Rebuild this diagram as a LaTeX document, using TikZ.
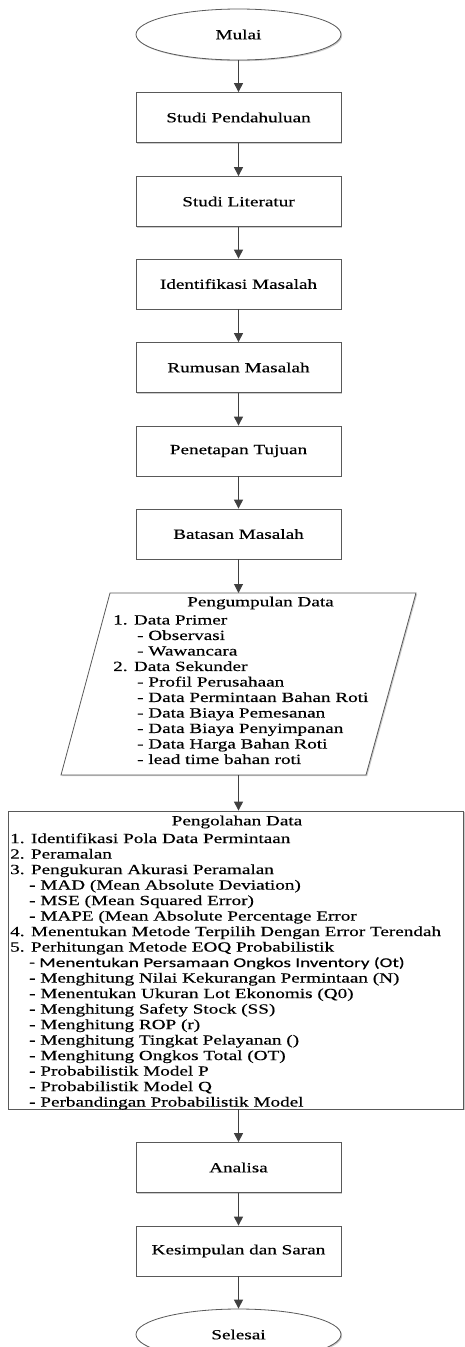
\documentclass[tikz,border=0pt]{standalone}
\usepackage{fontspec}
\setmainfont{Liberation Serif}[FakeStretch=1.37, FakeBold=0.4]
\newfontfamily\sansitem{Carlito}[FakeStretch=1.42, FakeBold=0.3]
\usepackage{tikz}
\usetikzlibrary{shapes.geometric, arrows.meta, positioning, calc, shadows}

\begin{document}
\begin{tikzpicture}[x=1pt, y=-1pt,
  bayang/.style={drop shadow={shadow xshift=1.2pt, shadow yshift=-1.2pt, fill=black!40, opacity=0.5}},
  box/.style={rectangle, minimum width=205, minimum height=50, draw=black!65, line width=0.8pt, fill=white, font=\fontsize{14}{15.5}\selectfont, bayang},
  terminal/.style={ellipse, minimum width=205, minimum height=51, draw=black!65, line width=0.8pt, fill=white, font=\fontsize{14}{15.5}\selectfont, bayang},
  judul/.style={inner sep=0pt, font=\fontsize{14}{15.5}\selectfont},
  isi/.style={inner sep=0pt, align=left, font=\fontsize{14}{15.5}\selectfont},
  panah/.style={draw=black!75, line width=1pt, -{Triangle[length=9pt, width=9pt]}},
]
\useasboundingbox (0,0) rectangle (464,1347);

\node[terminal] (mulai) at (238.5,34.5) {Mulai};
\node[box] (pendahuluan) at (238.5,117.5) {Studi Pendahuluan};
\node[box] (literatur) at (238.5,201.5) {Studi Literatur};
\node[box] (identifikasi) at (238.5,284) {Identifikasi Masalah};
\node[box] (rumusan) at (238.5,367.5) {Rumusan Masalah};
\node[box] (tujuan) at (238.5,451) {Penetapan Tujuan};
\node[box] (batasan) at (238.5,534) {Batasan Masalah};

% pengumpulan data (parallelogram)
\coordinate (kumpulA) at (110,593);
\coordinate (kumpulB) at (416,593);
\coordinate (kumpulC) at (366,775);
\coordinate (kumpulD) at (61,775);
\draw[draw=black!65, line width=0.8pt, fill=white, bayang] (kumpulA) -- (kumpulB) -- (kumpulC) -- (kumpulD) -- cycle;
\coordinate (kumpulAtas) at (238.5,593);
\coordinate (kumpulBawah) at (238.5,775);
\node[judul] (kumpulJudul) at (260.5,603) {Pengumpulan Data};
\node[isi, anchor=north west] (kumpulIsi) at (113,615) {%
1. Data Primer\\
\hspace*{24pt}- Observasi\\
\hspace*{24pt}- Wawancara\\
2. Data Sekunder\\
\hspace*{24pt}- Profil Perusahaan\\
\hspace*{24pt}- Data Permintaan Bahan Roti\\
\hspace*{24pt}- Data Biaya Pemesanan\\
\hspace*{24pt}- Data Biaya Penyimpanan\\
\hspace*{24pt}- Data Harga Bahan Roti\\
\hspace*{24pt}- lead time bahan roti};

% pengolahan data
\node[box, minimum width=455, minimum height=298] (olah) at (236,960) {};
\node[judul] (olahJudul) at (237,822) {Pengolahan Data};
\node[isi, anchor=north west] (olahIsi) at (10,833) {%
1. Identifikasi Pola Data Permintaan\\
2. Peramalan\\
3. Pengukuran Akurasi Peramalan\\
\hspace*{19pt}- MAD (Mean Absolute Deviation)\\
\hspace*{19pt}- MSE (Mean Squared Error)\\
\hspace*{19pt}- MAPE (Mean Absolute Percentage Error\\
4. Menentukan Metode Terpilih Dengan Error Terendah\\
5. Perhitungan Metode EOQ Probabilistik\\
\sansitem\fontsize{13.5}{15.5}\selectfont
\hspace*{19pt}- Menentukan Persamaan Ongkos Inventory (Ot)\\
\hspace*{19pt}- Menghitung Nilai Kekurangan Permintaan (N)\\
\hspace*{19pt}- Menentukan Ukuran Lot Ekonomis (Q0)\\
\hspace*{19pt}- Menghitung Safety Stock (SS)\\
\hspace*{19pt}- Menghitung ROP (r)\\
\hspace*{19pt}- Menghitung Tingkat Pelayanan ()\\
\hspace*{19pt}- Menghitung Ongkos Total (OT)\\
\hspace*{19pt}- Probabilistik Model P\\
\hspace*{19pt}- Probabilistik Model Q\\
\hspace*{19pt}- Perbandingan Probabilistik Model};

\node[box] (analisa) at (238.5,1167.5) {Analisa};
\node[box] (kesimpulan) at (238.5,1251) {Kesimpulan dan Saran};
\node[terminal] (selesai) at (238.5,1334.5) {Selesai};

\draw[panah] (mulai) -- (pendahuluan);
\draw[panah] (pendahuluan) -- (literatur);
\draw[panah] (literatur) -- (identifikasi);
\draw[panah] (identifikasi) -- (rumusan);
\draw[panah] (rumusan) -- (tujuan);
\draw[panah] (tujuan) -- (batasan);
\draw[panah] (batasan) -- (kumpulAtas);
\draw[panah] (kumpulBawah) -- (kumpulBawah |- olah.north);
\draw[panah] (olah.south -| analisa) -- (analisa);
\draw[panah] (analisa) -- (kesimpulan);
\draw[panah] (kesimpulan) -- (selesai);
\end{tikzpicture}
\end{document}
